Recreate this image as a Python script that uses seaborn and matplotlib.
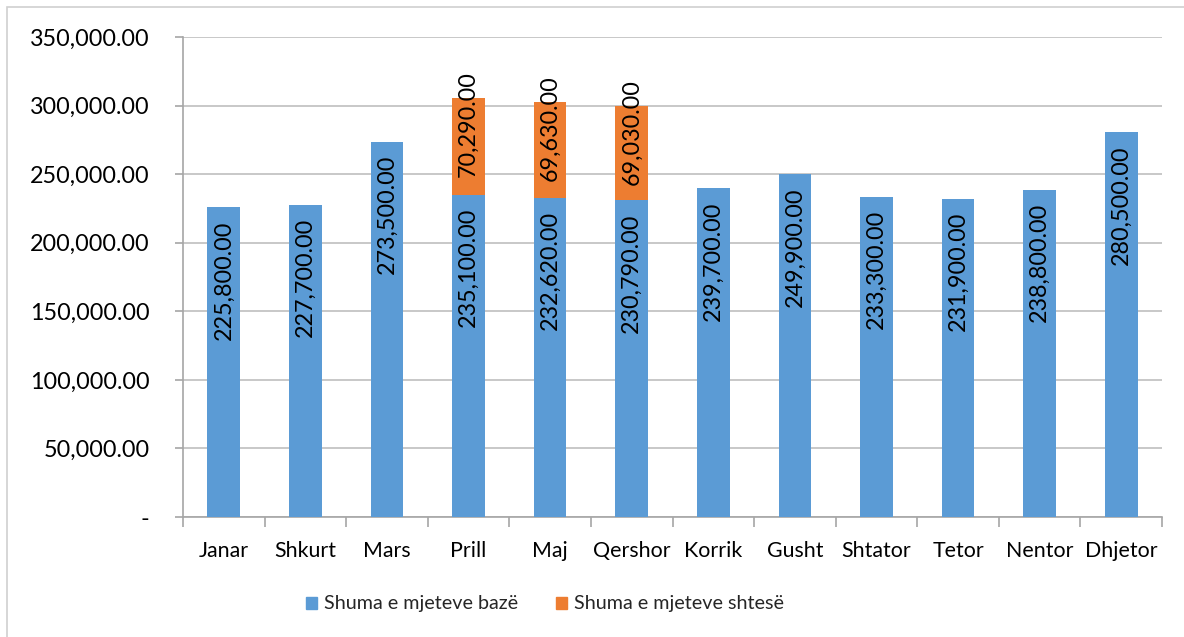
import matplotlib
matplotlib.use("Agg")
import matplotlib.pyplot as plt
import seaborn as sns
import pandas as pd
from matplotlib.patches import Rectangle
from matplotlib.ticker import FuncFormatter

months = ["Janar", "Shkurt", "Mars", "Prill", "Maj", "Qershor", "Korrik",
          "Gusht", "Shtator", "Tetor", "Nentor", "Dhjetor"]
base = [225800, 227700, 273500, 235100, 232620, 230790, 239700,
        249900, 233300, 231900, 238800, 280500]
extra = [0, 0, 0, 70290, 69630, 69030, 0, 0, 0, 0, 0, 0]
series_names = ["Shuma e mjeteve bazë", "Shuma e mjeteve shtesë"]
yticks = [0, 50000, 100000, 150000, 200000, 250000, 300000, 350000]

BLUE = "#5B9BD5"
ORANGE = "#ED7D31"
GRID = "#BFBFBF"
FONT = ["Lato", "DejaVu Sans"]
DPI = 100

sns.set_theme(style="white")
plt.rcParams["font.family"] = FONT

df = pd.DataFrame({"month": months, "base": base, "extra": extra})
df["total"] = df["base"] + df["extra"]

fig = plt.figure(figsize=(11.84, 6.37), dpi=DPI)
renderer = fig.canvas.get_renderer()


def size_for(s, target_px, base_pt=14.0):
    t = fig.text(0, 0, s, fontsize=base_pt)
    w = t.get_window_extent(renderer).width
    t.remove()
    return base_pt * target_px / w


fs_y = size_for("350,000.00", 120)
fs_x = (size_for("Dhjetor", 71) + size_for("Qershor", 79)) / 2
fs_bar = size_for("225,800.00", 120)
fs_leg = size_for(series_names[0], 195)

ax = fig.add_axes([183 / 1184, 1 - 517 / 637, (1162 - 183) / 1184, (517 - 37) / 637])

sns.barplot(data=df, x="month", y="total", color=ORANGE, width=0.40,
            saturation=1, ax=ax, linewidth=0, zorder=3)
sns.barplot(data=df, x="month", y="base", color=BLUE, width=0.40,
            saturation=1, ax=ax, linewidth=0, zorder=3)

ax.set_ylim(0, 350000)
ax.set_xlim(-0.5, len(months) - 0.5)
ax.set_yticks(yticks)
ax.yaxis.set_major_formatter(FuncFormatter(lambda v, p: "-" if v == 0 else f"{v:,.2f}"))
ax.set_xlabel("")
ax.set_ylabel("")
ax.grid(axis="y", color=GRID, linewidth=1.2, zorder=0)
ax.set_axisbelow(True)
for s in ["top", "right"]:
    ax.spines[s].set_visible(False)
for s in ["left", "bottom"]:
    ax.spines[s].set_color("#A6A6A6")
    ax.spines[s].set_linewidth(1.2)

ax.set_xticks(range(len(months)))
ax.set_xticklabels(months)
ax.set_xticks([i - 0.5 for i in range(len(months) + 1)], minor=True)
ax.tick_params(axis="x", which="major", length=0, labelsize=fs_x, pad=17, colors="black")
ax.tick_params(axis="x", which="minor", length=7, width=1.2, color="#A6A6A6", direction="out", bottom=True)
ax.tick_params(axis="y", length=6, width=1.2, color="#A6A6A6", direction="out", left=True,
               labelsize=fs_y, pad=18, colors="black")

for i, (b, e) in enumerate(zip(df["base"], df["extra"])):
    ax.annotate(f"{b:,.2f}", xy=(i, b), xytext=(0, -13), textcoords="offset pixels",
                rotation=90, ha="center", va="top", fontsize=fs_bar, color="black", zorder=5)
    if e > 0:
        ax.annotate(f"{e:,.2f}", xy=(i, b + e), xytext=(0, 27), textcoords="offset pixels",
                    rotation=90, ha="center", va="top", fontsize=fs_bar, color="black", zorder=5)

fs_leg_px = fs_leg * DPI / 72
handles = [Rectangle((0, 0), 1, 1, color=BLUE), Rectangle((0, 0), 1, 1, color=ORANGE)]
fig.legend(handles, series_names, loc="center", bbox_to_anchor=(545 / 1184, 1 - 604 / 637),
           ncol=2, frameon=False, fontsize=fs_leg, borderpad=0, borderaxespad=0,
           handlelength=11 / fs_leg_px, handleheight=11 / fs_leg_px,
           handletextpad=7 / fs_leg_px, columnspacing=38 / fs_leg_px)

fig.add_artist(Rectangle((7 / 1184, -0.1), 1.2, 1 - 7 / 637 + 0.1, transform=fig.transFigure,
                         fill=False, edgecolor="#D0D0D0", linewidth=1.2))

fig.savefig("out.png", dpi=DPI)
